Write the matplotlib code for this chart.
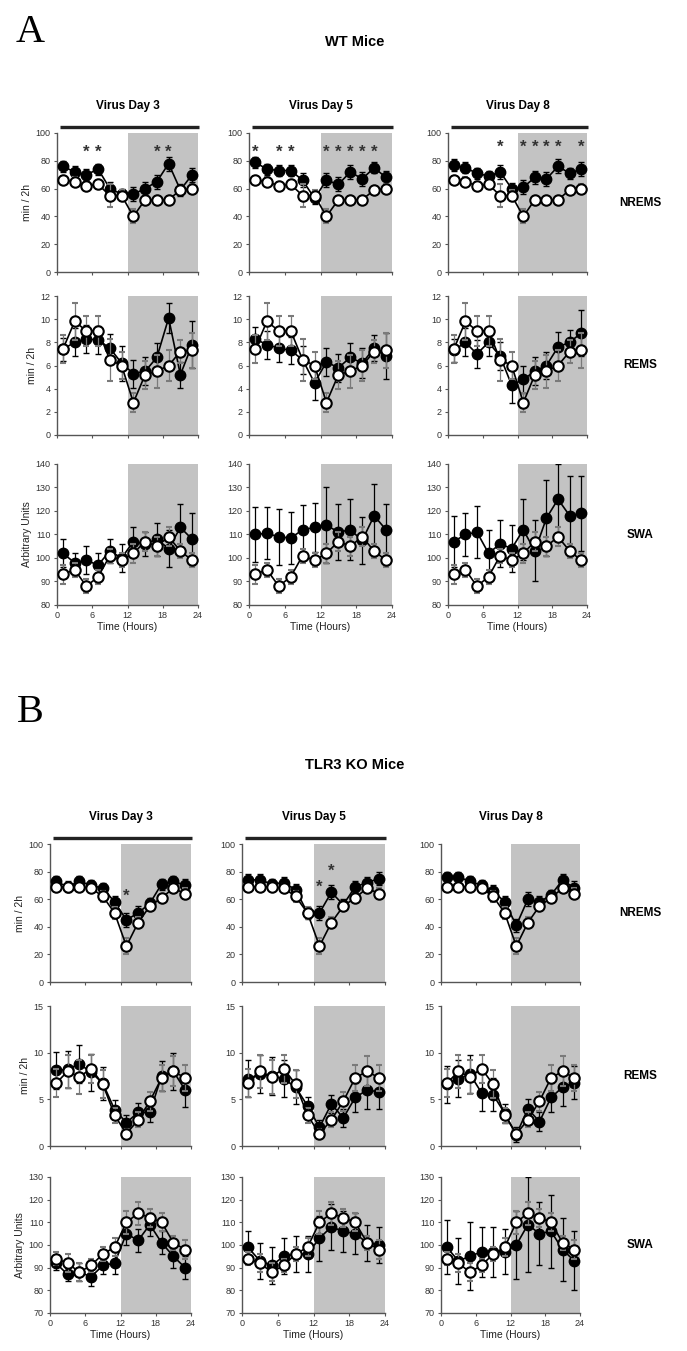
import numpy as np
import matplotlib
matplotlib.use("Agg")
import matplotlib.pyplot as plt

plt.rcParams['font.family'] = ['Liberation Sans', 'DejaVu Sans']

hours = [1, 3, 5, 7, 9, 11, 13, 15, 17, 19, 21, 23]
day_titles = ['Virus Day 3', 'Virus Day 5', 'Virus Day 8']
row_names = ['NREMS', 'REMS', 'SWA']

# ---- WT mice (panel A) ----
wt_nrems_base = [66, 65, 62, 63, 55, 55, 40, 52, 52, 52, 59, 60]
wt_nrems_base_err = [3, 3, 3, 3, 8, 4, 5, 3, 3, 3, 2, 3]
wt_nrems_d3 = [76, 72, 70, 74, 60, 56, 56, 60, 65, 78, 59, 70]
wt_nrems_d5 = [79, 74, 73, 73, 66, 53, 66, 63, 72, 67, 75, 68]
wt_nrems_d8 = [77, 75, 71, 69, 72, 60, 61, 68, 67, 76, 71, 74]
wt_nrems_err = [4, 4, 4, 4, 5, 4, 5, 5, 5, 5, 4, 5]

wt_rems_base = [7.4, 9.8, 9.0, 9.0, 6.5, 6.0, 2.8, 5.2, 5.5, 6.0, 7.2, 7.3]
wt_rems_base_err = [1.2, 1.6, 1.3, 1.3, 1.8, 1.2, 0.8, 1.2, 1.4, 1.3, 1.0, 1.5]
wt_rems_d3 = [7.4, 8.0, 8.3, 8.2, 7.5, 6.2, 5.3, 5.5, 6.7, 10.1, 5.2, 7.8]
wt_rems_d5 = [8.3, 7.8, 7.5, 7.3, 6.5, 4.5, 6.3, 5.8, 6.7, 6.2, 7.5, 6.8]
wt_rems_d8 = [7.3, 8.0, 7.0, 8.0, 6.8, 4.3, 4.8, 5.5, 6.0, 7.6, 8.0, 8.8]
wt_rems_err = [1.0, 1.2, 1.2, 1.2, 1.2, 1.5, 1.2, 1.2, 1.2, 1.3, 1.1, 2.0]

wt_swa_base = [93, 95, 88, 92, 101, 99, 102, 107, 105, 109, 103, 99]
wt_swa_base_err = [4, 3, 3, 3, 3, 3, 4, 4, 4, 4, 3, 3]
wt_swa_d3 = [102, 98, 99, 97, 103, 100, 107, 106, 108, 104, 113, 108]
wt_swa_d3_err = [6, 4, 6, 5, 5, 6, 6, 5, 7, 8, 10, 11]
wt_swa_d5 = [110, 110.5, 109, 108.5, 112, 113, 114, 111, 112, 107.5, 118, 112]
wt_swa_d5_err = [11.5, 11, 12, 11, 10.5, 10.5, 16, 12, 13, 10, 13.5, 11]
wt_swa_d8 = [107, 110, 111, 102, 106, 104, 112, 103, 117, 125, 118, 119]
wt_swa_d8_err = [11, 9, 11, 10, 10, 10, 13, 13, 16, 15, 17, 16]

wt_stars = [[5, 7, 17, 19], [1, 5, 7, 13, 15, 17, 19, 21], [9, 13, 15, 17, 19, 23]]
wt_star_y = [86, 86, 90]

# ---- TLR3 KO mice (panel B) ----
ko_nrems_base = [69, 69, 69, 68, 62, 50, 26, 43, 55, 61, 68, 64]
ko_nrems_base_err = [3, 3, 3, 3, 4, 4, 6, 4, 3, 3, 3, 4]
ko_nrems_d3 = [73, 69, 73, 70, 68, 58, 45, 50, 57, 71, 73, 70]
ko_nrems_d5 = [74, 74, 71, 72, 67, 50, 50, 65, 56, 69, 72, 75]
ko_nrems_d8 = [76, 76, 73, 70, 66, 58, 41, 60, 58, 63, 74, 68]
ko_nrems_err = [4, 4, 4, 4, 4, 4, 5, 5, 4, 4, 4, 5]

ko_rems_base = [6.7, 8.0, 7.4, 8.3, 6.6, 3.3, 1.3, 2.8, 4.8, 7.3, 8.0, 7.3]
ko_rems_base_err = [1.5, 1.8, 1.8, 1.5, 1.5, 0.8, 0.5, 0.8, 1.0, 1.4, 1.6, 1.4]
ko_rems_d3 = [8.1, 8.2, 8.8, 7.9, 6.7, 3.9, 2.5, 3.6, 3.6, 7.5, 8.0, 6.0]
ko_rems_d5 = [7.2, 7.7, 7.5, 7.2, 6.3, 4.3, 2.0, 4.5, 3.0, 5.2, 6.0, 5.8]
ko_rems_d8 = [6.6, 7.2, 7.7, 5.7, 5.5, 3.5, 1.2, 4.0, 2.6, 5.2, 6.3, 6.8]
ko_rems_err = [2.0, 2.0, 2.0, 2.0, 1.8, 1.0, 0.8, 1.0, 1.0, 1.6, 2.0, 1.8]

ko_swa_base = [94, 92, 88, 91, 96, 99, 110, 114, 112, 110, 101, 98]
ko_swa_base_err = [3, 4, 4, 3, 3, 4, 5, 5, 4, 4, 3, 4]
ko_swa_d3 = [92, 87, 88, 86, 91, 92, 105, 102, 109, 101, 95, 90]
ko_swa_d3_err = [3, 3, 4, 4, 4, 5, 5, 5, 5, 5, 5, 5]
ko_swa_d5 = [99, 93, 91, 95, 96, 96, 103, 108, 106, 105, 101, 100]
ko_swa_d5_err = [7, 8, 8, 8, 8, 8, 10, 10, 9, 9, 8, 8]
ko_swa_d8 = [99, 93, 95, 97, 97, 97, 100, 109, 105, 106, 98, 93]
ko_swa_d8_err = [12, 10, 15, 11, 11, 10, 15, 21, 14, 16, 14, 13]

ko_stars = [[13], [13, 15], []]
ko_star_y = [[62], [69, 80], []]

# panel pixel boxes (x0, x1) per column and (y0, y1) per row
W, H = 687, 1351
a_cols = [(57, 198), (249, 392), (448, 587)]
a_rows = [(133, 272), (296, 435), (464, 605)]
b_cols = [(50, 191), (242, 385), (441, 580)]
b_rows = [(844, 982), (1006, 1146), (1177, 1313)]

row_ylim = {'A': [(0, 100), (0, 12), (80, 140)], 'B': [(0, 100), (0, 15), (70, 130)]}
row_yticks = {'A': [range(0, 101, 20), range(0, 13, 2), range(80, 141, 10)],
              'B': [range(0, 101, 20), range(0, 16, 5), range(70, 131, 10)]}

fig = plt.figure(figsize=(W / 100, H / 100), dpi=100)


def make_ax(xr, yr):
    return fig.add_axes([xr[0] / W, 1 - yr[1] / H, (xr[1] - xr[0]) / W, (yr[1] - yr[0]) / H])


def draw(ax, base, base_err, vir, vir_err, ylim, yticks, bottom):
    ax.axvspan(12, 24, color='#c3c3c3', lw=0, zorder=0)
    ax.errorbar(hours, vir, yerr=vir_err, color='black', lw=1.2, elinewidth=0.9,
                capsize=2.2, marker='o', ms=7.5, mfc='black', mec='black', zorder=3)
    ax.errorbar(hours, base, yerr=base_err, color='black', lw=1.2, elinewidth=0.9,
                ecolor='#7a7a7a', capsize=2.2, marker='o', ms=7.5, mfc='white',
                mec='black', mew=1.5, zorder=4)
    ax.set_xlim(0, 24)
    ax.set_ylim(*ylim)
    ax.set_yticks(list(yticks))
    ax.set_xticks([0, 6, 12, 18, 24])
    for s in ['top', 'right']:
        ax.spines[s].set_visible(False)
    for s in ['left', 'bottom']:
        ax.spines[s].set_color('#555555')
        ax.spines[s].set_linewidth(1.0)
    ax.tick_params(length=2.5, width=0.8, color='#555555', labelsize=6.5, labelcolor='#333333', pad=2)
    if bottom:
        ax.set_xlabel('Time (Hours)', fontsize=7.5, color='#222222', labelpad=1)
    else:
        ax.set_xticklabels([])


panels = {
    'A': dict(cols=a_cols, rows=a_rows,
              data=[[(wt_nrems_base, wt_nrems_base_err, wt_nrems_d3, wt_nrems_err),
                     (wt_nrems_base, wt_nrems_base_err, wt_nrems_d5, wt_nrems_err),
                     (wt_nrems_base, wt_nrems_base_err, wt_nrems_d8, wt_nrems_err)],
                    [(wt_rems_base, wt_rems_base_err, wt_rems_d3, wt_rems_err),
                     (wt_rems_base, wt_rems_base_err, wt_rems_d5, wt_rems_err),
                     (wt_rems_base, wt_rems_base_err, wt_rems_d8, wt_rems_err)],
                    [(wt_swa_base, wt_swa_base_err, wt_swa_d3, wt_swa_d3_err),
                     (wt_swa_base, wt_swa_base_err, wt_swa_d5, wt_swa_d5_err),
                     (wt_swa_base, wt_swa_base_err, wt_swa_d8, wt_swa_d8_err)]],
              stars=wt_stars, star_y=[[y] * len(s) for y, s in zip(wt_star_y, wt_stars)],
              bars=[True, True, True]),
    'B': dict(cols=b_cols, rows=b_rows,
              data=[[(ko_nrems_base, ko_nrems_base_err, ko_nrems_d3, ko_nrems_err),
                     (ko_nrems_base, ko_nrems_base_err, ko_nrems_d5, ko_nrems_err),
                     (ko_nrems_base, ko_nrems_base_err, ko_nrems_d8, ko_nrems_err)],
                    [(ko_rems_base, ko_rems_base_err, ko_rems_d3, ko_rems_err),
                     (ko_rems_base, ko_rems_base_err, ko_rems_d5, ko_rems_err),
                     (ko_rems_base, ko_rems_base_err, ko_rems_d8, ko_rems_err)],
                    [(ko_swa_base, ko_swa_base_err, ko_swa_d3, ko_swa_d3_err),
                     (ko_swa_base, ko_swa_base_err, ko_swa_d5, ko_swa_d5_err),
                     (ko_swa_base, ko_swa_base_err, ko_swa_d8, ko_swa_d8_err)]],
              stars=ko_stars, star_y=ko_star_y, bars=[True, True, False]),
}

for key, p in panels.items():
    for r in range(3):
        for c in range(3):
            ax = make_ax(p['cols'][c], p['rows'][r])
            base, base_err, vir, vir_err = p['data'][r][c]
            draw(ax, base, base_err, vir, vir_err, row_ylim[key][r], row_yticks[key][r], r == 2)
            if c == 0:
                ax.set_ylabel('Arbitrary Units' if r == 2 else 'min / 2h', fontsize=7.5,
                              color='#222222', labelpad=3)
            if r == 0:
                ax.set_title(day_titles[c], fontsize=8.5, fontweight='bold', pad=17)
                if p['bars'][c]:
                    ax.plot([0.02, 1.01], [1.045, 1.045], transform=ax.transAxes,
                            color='#222222', lw=2.4, clip_on=False, solid_capstyle='butt')
                for h, sy in zip(p['stars'][c], p['star_y'][c]):
                    ax.text(h, sy, '*', ha='center', va='center', fontsize=12,
                            fontweight='bold', color='#333333', zorder=5)
        yc = (p['rows'][r][0] + p['rows'][r][1]) / 2
        fig.text(640 / W, 1 - yc / H, row_names[r], ha='center', va='center',
                 fontsize=8.5, fontweight='bold')

fig.text(30 / W, 1 - 32 / H, 'A', fontsize=29, family='Liberation Serif', ha='center', va='center')
fig.text(30 / W, 1 - 712 / H, 'B', fontsize=29, family='Liberation Serif', ha='center', va='center')
fig.text(355 / W, 1 - 42 / H, 'WT Mice', fontsize=10.5, fontweight='bold', ha='center', va='center')
fig.text(355 / W, 1 - 765 / H, 'TLR3 KO Mice', fontsize=10.5, fontweight='bold', ha='center', va='center')

fig.savefig('out.png', dpi=100)
